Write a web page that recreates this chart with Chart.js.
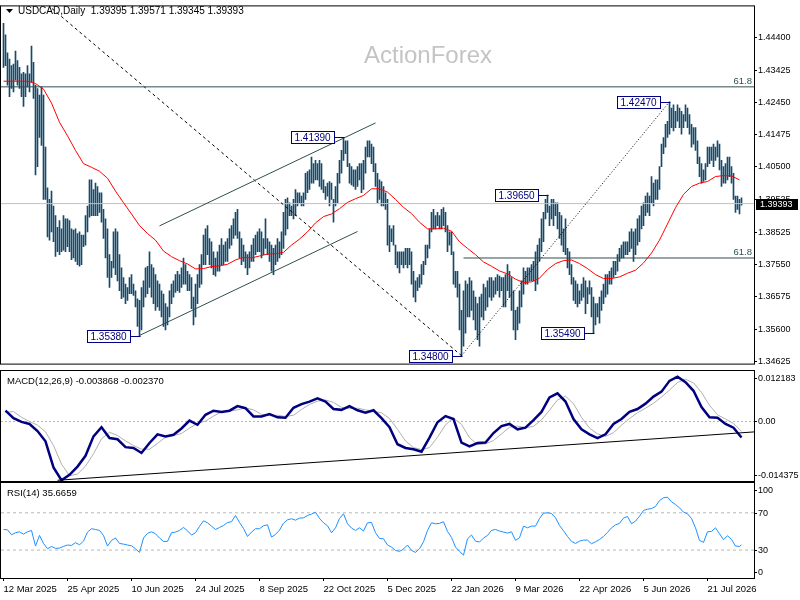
<!DOCTYPE html>
<html>
<head>
<meta charset="utf-8">
<title>USDCAD Daily</title>
<script src="https://cdn.jsdelivr.net/npm/chart.js@4.4.1/dist/chart.umd.min.js"></script>
<style>
  html, body { margin: 0; padding: 0; background: #fff; }
  #wrap { position: relative; width: 800px; height: 600px; overflow: hidden; background: #fff; }
  #wrap canvas { position: absolute; left: 0; }
</style>
</head>
<body>
<div id="wrap">
  <canvas id="priceChart" width="800" height="370" style="top:0px"></canvas>
  <canvas id="macdChart" width="800" height="112" style="top:370px"></canvas>
  <canvas id="rsiChart" width="800" height="118" style="top:482px"></canvas>
</div>
<script>
// daily bars, one value per trading day (bar 0 = 12 Mar 2025)
const priceHigh = [
  1.4484,1.4449,1.4395,1.4376,1.4356,1.4361,1.4400,1.4371,1.4351,1.4331,
  1.4336,1.4331,1.4356,1.4331,1.4415,1.4366,1.4297,1.4287,1.4267,1.4292,
  1.4267,1.4110,1.3987,1.3952,1.3977,1.3932,1.3903,1.3868,1.3888,1.3863,
  1.3903,1.3893,1.3893,1.3888,1.3863,1.3859,1.3863,1.3849,1.3854,1.3844,
  1.3844,1.3903,1.3932,1.4011,1.4011,1.3982,1.4001,1.3991,1.3972,1.3972,
  1.3922,1.3893,1.3863,1.3785,1.3765,1.3854,1.3863,1.3854,1.3785,1.3745,
  1.3716,1.3696,1.3686,1.3716,1.3725,1.3696,1.3676,1.3652,1.3647,1.3686,
  1.3706,1.3745,1.3750,1.3794,1.3755,1.3745,1.3725,1.3706,1.3696,1.3676,
  1.3666,1.3637,1.3627,1.3676,1.3696,1.3706,1.3725,1.3735,1.3725,1.3745,
  1.3775,1.3755,1.3735,1.3725,1.3716,1.3657,1.3696,1.3725,1.3755,1.3785,
  1.3844,1.3863,1.3873,1.3834,1.3824,1.3794,1.3775,1.3794,1.3814,1.3834,
  1.3814,1.3824,1.3834,1.3863,1.3873,1.3893,1.3913,1.3922,1.3854,1.3834,
  1.3814,1.3794,1.3785,1.3794,1.3814,1.3834,1.3844,1.3854,1.3863,1.3854,
  1.3834,1.3893,1.3834,1.3824,1.3814,1.3804,1.3814,1.3834,1.3824,1.3854,
  1.3913,1.3952,1.3957,1.3942,1.3932,1.3952,1.3982,1.3972,1.3972,1.3962,
  1.3972,1.4031,1.4036,1.4041,1.4080,1.4060,1.4070,1.4060,1.4070,1.4060,
  1.4011,1.3991,1.4001,1.4006,1.4001,1.3952,1.3991,1.4031,1.4070,1.4100,
  1.4139,1.4129,1.4129,1.4060,1.4051,1.4041,1.4041,1.4051,1.4060,1.4060,
  1.4070,1.4110,1.4129,1.4129,1.4119,1.4110,1.4060,1.4031,1.4011,1.4006,
  1.3991,1.3972,1.3952,1.3873,1.3863,1.3873,1.3814,1.3794,1.3794,1.3794,
  1.3794,1.3804,1.3804,1.3804,1.3794,1.3735,1.3706,1.3716,1.3725,1.3755,
  1.3765,1.3814,1.3814,1.3863,1.3913,1.3922,1.3903,1.3913,1.3903,1.3922,
  1.3927,1.3913,1.3873,1.3854,1.3854,1.3794,1.3735,1.3735,1.3696,1.3617,
  1.3676,1.3706,1.3696,1.3716,1.3706,1.3676,1.3657,1.3637,1.3657,1.3666,
  1.3696,1.3686,1.3706,1.3716,1.3716,1.3706,1.3716,1.3725,1.3720,1.3716,
  1.3716,1.3725,1.3755,1.3735,1.3716,1.3676,1.3617,1.3627,1.3676,1.3706,
  1.3745,1.3735,1.3745,1.3745,1.3755,1.3765,1.3794,1.3814,1.3834,1.3893,
  1.3913,1.3952,1.3965,1.3932,1.3952,1.3952,1.3942,1.3942,1.3913,1.3903,
  1.3863,1.3893,1.3804,1.3794,1.3755,1.3716,1.3706,1.3696,1.3676,1.3696,
  1.3716,1.3706,1.3686,1.3706,1.3686,1.3657,1.3637,1.3637,1.3657,1.3676,
  1.3696,1.3725,1.3725,1.3735,1.3745,1.3765,1.3765,1.3785,1.3804,1.3814,
  1.3824,1.3824,1.3824,1.3854,1.3863,1.3854,1.3863,1.3893,1.3903,1.3932,
  1.3942,1.3962,1.3972,1.3962,1.4021,1.4001,1.4011,1.4011,1.4051,1.4119,
  1.4139,1.4179,1.4188,1.4247,1.4228,1.4238,1.4218,1.4238,1.4228,1.4218,
  1.4208,1.4238,1.4228,1.4208,1.4179,1.4169,1.4169,1.4129,1.4080,1.4060,
  1.4041,1.4060,1.4110,1.4110,1.4110,1.4119,1.4110,1.4129,1.4119,1.4070,
  1.4051,1.4060,1.4080,1.4080,1.4051,1.4031,1.3962,1.3962,1.3952,1.39571
];
const priceLow = [
  1.4351,1.4356,1.4297,1.4262,1.4287,1.4277,1.4312,1.4297,1.4287,1.4262,
  1.4233,1.4262,1.4292,1.4277,1.4307,1.4257,1.4026,1.4051,1.4139,1.4115,
  1.3952,1.3952,1.3839,1.3829,1.3854,1.3824,1.3780,1.3794,1.3785,1.3794,
  1.3799,1.3794,1.3809,1.3794,1.3770,1.3775,1.3765,1.3755,1.3750,1.3755,
  1.3809,1.3814,1.3854,1.3898,1.3903,1.3903,1.3903,1.3903,1.3913,1.3883,
  1.3834,1.3775,1.3716,1.3686,1.3716,1.3745,1.3725,1.3706,1.3676,1.3652,
  1.3657,1.3637,1.3647,1.3667,1.3667,1.3662,1.3627,1.3568,1.3538,1.3558,
  1.3627,1.3657,1.3667,1.3686,1.3657,1.3637,1.3617,1.3627,1.3617,1.3597,
  1.3568,1.3558,1.3573,1.3597,1.3637,1.3657,1.3671,1.3676,1.3671,1.3686,
  1.3696,1.3696,1.3676,1.3676,1.3622,1.3573,1.3597,1.3637,1.3686,1.3696,
  1.3755,1.3755,1.3785,1.3755,1.3745,1.3725,1.3720,1.3735,1.3735,1.3755,
  1.3755,1.3765,1.3765,1.3804,1.3814,1.3834,1.3844,1.3834,1.3775,1.3755,
  1.3765,1.3745,1.3725,1.3745,1.3765,1.3765,1.3785,1.3794,1.3794,1.3775,
  1.3785,1.3804,1.3785,1.3765,1.3735,1.3725,1.3755,1.3765,1.3775,1.3785,
  1.3804,1.3844,1.3863,1.3903,1.3903,1.3893,1.3903,1.3932,1.3942,1.3932,
  1.3932,1.3952,1.3972,1.3982,1.4001,1.4001,1.4011,1.4011,1.3991,1.3982,
  1.3972,1.3952,1.3962,1.3932,1.3952,1.3883,1.3932,1.3942,1.4001,1.4031,
  1.4070,1.4090,1.4051,1.4001,1.3996,1.3991,1.3982,1.3991,1.4011,1.3972,
  1.3982,1.4031,1.4080,1.4080,1.4060,1.4036,1.3991,1.3942,1.3952,1.3932,
  1.3932,1.3922,1.3814,1.3794,1.3824,1.3814,1.3755,1.3745,1.3730,1.3755,
  1.3745,1.3755,1.3745,1.3755,1.3696,1.3657,1.3642,1.3676,1.3686,1.3696,
  1.3725,1.3755,1.3775,1.3804,1.3854,1.3863,1.3863,1.3873,1.3863,1.3863,
  1.3873,1.3854,1.3794,1.3814,1.3785,1.3696,1.3686,1.3657,1.3558,1.3480,
  1.3509,1.3548,1.3597,1.3597,1.3617,1.3588,1.3558,1.3528,1.3509,1.3597,
  1.3588,1.3617,1.3627,1.3657,1.3647,1.3657,1.3666,1.3676,1.3657,1.3676,
  1.3627,1.3627,1.3676,1.3657,1.3617,1.3558,1.3528,1.3558,1.3578,1.3627,
  1.3666,1.3696,1.3696,1.3706,1.3706,1.3706,1.3676,1.3696,1.3765,1.3794,
  1.3824,1.3893,1.3913,1.3873,1.3893,1.3873,1.3903,1.3863,1.3834,1.3814,
  1.3794,1.3785,1.3745,1.3725,1.3696,1.3647,1.3637,1.3627,1.3637,1.3647,
  1.3657,1.3607,1.3637,1.3666,1.3597,1.3549,1.3573,1.3597,1.3578,1.3617,
  1.3637,1.3657,1.3666,1.3696,1.3696,1.3716,1.3725,1.3735,1.3765,1.3775,
  1.3775,1.3785,1.3785,1.3794,1.3804,1.3765,1.3785,1.3814,1.3824,1.3863,
  1.3873,1.3903,1.3913,1.3903,1.3942,1.3932,1.3952,1.3952,1.3982,1.4051,
  1.4090,1.4110,1.4139,1.4149,1.4169,1.4159,1.4169,1.4188,1.4169,1.4149,
  1.4169,1.4188,1.4169,1.4149,1.4110,1.4119,1.4100,1.4060,1.4021,1.4001,
  1.4006,1.4011,1.4051,1.4060,1.4070,1.4051,1.4070,1.4080,1.4041,1.3991,
  1.4001,1.4001,1.4011,1.4021,1.4001,1.3952,1.3913,1.3922,1.3908,1.39345
];
const lastPrice = 1.39393;

// moving average, read every 4th bar (bars 0, 4, 8 ...)
const maLine = [
  1.4309,1.4309,1.4309,1.4309,1.4302,1.4285,1.4243,1.4185,1.4144,1.4100,
  1.4060,1.4049,1.4037,1.4016,1.3977,1.3942,1.3908,1.3873,1.3849,1.3829,
  1.3796,1.3779,1.3767,1.3757,1.3742,1.3743,1.3749,1.3751,1.3756,1.3769,
  1.3777,1.3775,1.3781,1.3787,1.3788,1.3792,1.3814,1.3832,1.3854,1.3881,
  1.3900,1.3908,1.3924,1.3943,1.3954,1.3964,1.3984,1.3984,1.3974,1.3952,
  1.3928,1.3909,1.3883,1.3863,1.3863,1.3865,1.3856,1.3824,1.3804,1.3785,
  1.3763,1.3750,1.3736,1.3727,1.3711,1.3701,1.3703,1.3714,1.3740,1.3758,
  1.3767,1.3769,1.3758,1.3743,1.3725,1.3713,1.3713,1.3718,1.3729,1.3738,
  1.3760,1.3790,1.3829,1.3878,1.3927,1.3967,1.3991,1.4001,1.4006,1.4021,
  1.4024,1.4023,1.4011
];

// MACD(12,26,9), read every 4th bar (bars 1, 5, 9 ... 369)
const macdMain = [
  0.0026,0.0008,-0.0001,-0.0006,-0.0023,-0.0048,-0.0111,-0.0142,-0.0129,-0.0109,
  -0.0083,-0.0036,-0.0014,-0.0040,-0.0043,-0.0062,-0.0064,-0.0076,-0.0052,-0.0031,
  -0.0036,-0.0032,-0.0017,0.0002,-0.0008,0.0016,0.0026,0.0023,0.0026,0.0037,
  0.0032,0.0012,0.0012,0.0018,0.0010,0.0009,0.0033,0.0042,0.0048,0.0056,
  0.0048,0.0030,0.0028,0.0037,0.0027,0.0021,0.0027,0.0008,-0.0014,-0.0055,
  -0.0064,-0.0067,-0.0073,-0.0039,-0.0002,0.0013,0.0006,-0.0051,-0.0060,-0.0052,
  -0.0051,-0.0028,-0.0011,-0.0006,-0.0019,-0.0015,0.0003,0.0023,0.0058,0.0068,
  0.0048,0.0006,-0.0019,-0.0031,-0.0040,-0.0031,-0.0006,0.0006,0.0023,0.0030,
  0.0043,0.0060,0.0072,0.0098,0.0108,0.0095,0.0074,0.0035,0.0010,0.0009,
  -0.0006,-0.0015,-0.003868
];
const macdSignal = [
  0.0022,0.0024,0.0010,0.0000,-0.0009,-0.0025,-0.0058,-0.0103,-0.0131,-0.0127,
  -0.0108,-0.0078,-0.0042,-0.0026,-0.0034,-0.0047,-0.0058,-0.0067,-0.0067,-0.0053,
  -0.0038,-0.0034,-0.0029,-0.0016,-0.0005,0.0001,0.0013,0.0023,0.0025,0.0028,
  0.0033,0.0028,0.0017,0.0014,0.0015,0.0012,0.0015,0.0029,0.0041,0.0049,
  0.0052,0.0046,0.0034,0.0031,0.0032,0.0028,0.0024,0.0021,0.0007,-0.0019,
  -0.0047,-0.0063,-0.0068,-0.0063,-0.0038,-0.0008,0.0008,-0.0007,-0.0039,-0.0056,
  -0.0054,-0.0046,-0.0030,-0.0014,-0.0011,-0.0015,-0.0012,0.0004,0.0027,0.0052,
  0.0061,0.0043,0.0010,-0.0016,-0.0030,-0.0036,-0.0027,-0.0009,0.0007,0.0021,
  0.0032,0.0044,0.0059,0.0076,0.0094,0.0102,0.0093,0.0070,0.0039,0.0016,
  0.0006,-0.0005,-0.002370
];

// RSI(14), read every 2nd bar (bars 0, 2, 4 ... 368) plus the last bar
const rsiLine = [
  52.1,51.8,46.4,48.6,49.6,47.1,49.6,51.1,34.3,45.7,
  37.1,31.4,33.9,31.8,32.1,33.9,35.4,35.0,37.9,35.7,
  39.6,49.3,52.9,52.1,51.1,45.7,34.3,40.4,42.9,37.1,
  36.4,35.4,34.6,31.4,27.5,42.9,47.9,49.6,47.5,42.9,
  39.3,39.3,48.6,49.3,51.1,54.3,50.7,46.1,48.6,55.4,
  61.4,59.3,55.7,52.1,54.3,56.4,59.6,60.4,67.1,59.6,
  53.2,44.6,49.3,52.9,52.9,56.1,57.1,43.9,46.8,51.4,
  58.9,62.5,63.6,62.1,64.3,64.6,67.1,68.6,70.7,63.9,
  59.3,56.1,48.6,53.9,63.9,68.9,58.2,53.6,51.1,53.9,
  50.4,59.3,59.6,48.6,42.5,42.1,35.4,33.2,29.6,28.6,
  31.1,35.4,29.6,27.5,31.4,38.9,51.1,59.3,58.2,58.6,
  60.4,50.0,43.6,33.2,28.6,24.6,42.1,46.1,39.6,38.6,
  42.9,45.7,51.1,52.1,50.4,49.3,48.2,49.6,40.4,43.2,
  55.7,53.9,55.7,55.7,63.9,69.6,70.0,69.3,64.6,56.4,
  50.7,44.6,39.3,37.1,39.6,40.7,40.7,36.8,38.9,41.4,
  44.6,48.9,53.9,57.1,58.6,64.3,66.1,58.2,61.1,66.4,
  72.5,73.9,74.6,76.8,83.2,86.1,86.8,81.8,78.9,75.4,
  70.7,68.9,63.9,53.9,40.4,38.2,49.6,50.0,53.9,47.5,
  41.1,45.4,41.4,34.3,33.9,35.6659
];

// drawn objects: bar index / price pairs
const pivotBars = [68, 170, 229, 272, 295, 333];
const pivotPrices = [1.35380, 1.41390, 1.34800, 1.39650, 1.35490, 1.42470];
const fibLevels = [1.4292, 1.3775];
const fibFromBars = [-2, 230];
const channelUpperBars = [78, 186];
const channelUpperPrices = [1.3872, 1.4183];
const channelLowerBars = [68, 177];
const channelLowerPrices = [1.3541, 1.3855];
const fallLineBars = [22, 229];
const fallLinePrices = [1.4540, 1.3480];
const riseLineBars = [229, 333];
const riseLinePrices = [1.3480, 1.4247];
const macdTrendBars = [27, 376];
const macdTrendValues = [-0.0142, -0.0025];

// axes
const priceTicks = [1.44400, 1.43425, 1.42450, 1.41475, 1.40500, 1.39525, 1.38525, 1.37550, 1.36575, 1.35600, 1.34625];
const macdTicks = [0.012183, 0, -0.014375];
const macdTickLabels = ['0.012183', '0.00', '-0.014375'];
const rsiTicks = [100, 70, 30, 0];
const dateTickBars = [0, 32, 64, 96, 128, 160, 192, 224, 256, 288, 320, 352];
const dateTickLabels = ['12 Mar 2025', '25 Apr 2025', '10 Jun 2025', '24 Jul 2025', '8 Sep 2025', '22 Oct 2025',
  '5 Dec 2025', '22 Jan 2026', '9 Mar 2026', '22 Apr 2026', '5 Jun 2026', '21 Jul 2026'];

const FONT = '"Liberation Sans", Arial, sans-serif';
Chart.defaults.font.family = FONT;
Chart.defaults.font.size = 9;
Chart.defaults.color = '#000';

const X_MIN = -1.25;
const X_MAX = 375.25;

function segment(bars, vals) {
  return bars.map((b, n) => ({ x: b, y: vals[n] }));
}

function lineSet(data, color, width, dash, order) {
  return {
    type: 'line', data: data, borderColor: color, borderWidth: width,
    borderDash: dash || [], pointRadius: 0, tension: 0, order: order || 0
  };
}

const frame = {
  id: 'frame',
  afterDraw(chart) {
    const a = chart.chartArea;
    const ctx = chart.ctx;
    ctx.save();
    ctx.strokeStyle = '#000';
    ctx.lineWidth = 1;
    ctx.strokeRect(a.left - 0.5, a.top - 0.5, a.right - a.left + 1, a.bottom - a.top + 1);
    ctx.restore();
  }
};

// labels on the right side of the small panels, kept inside the window
function sideLabels(values, texts, title) {
  return {
    id: 'sideLabels',
    afterDraw(chart) {
      const ctx = chart.ctx;
      const a = chart.chartArea;
      const y = chart.scales.y;
      ctx.save();
      ctx.font = '9px ' + FONT;
      ctx.fillStyle = '#000';
      ctx.strokeStyle = '#000';
      ctx.textBaseline = 'middle';
      values.forEach((v, n) => {
        let py = y.getPixelForValue(v);
        py = Math.min(Math.max(py, a.top + 7), a.bottom - 6);
        py = Math.round(py) + 0.5;
        ctx.beginPath();
        ctx.moveTo(a.right, py);
        ctx.lineTo(a.right + 3, py);
        ctx.stroke();
        ctx.fillText(texts[n], a.right + 4, py);
      });
      ctx.textBaseline = 'alphabetic';
      ctx.font = '9.5px ' + FONT;
      ctx.fillText(title, 7, a.top + 13);
      ctx.restore();
    }
  };
}

const priceDecor = {
  id: 'priceDecor',
  beforeDatasetsDraw(chart) {
    const ctx = chart.ctx;
    ctx.save();
    ctx.font = '24px ' + FONT;
    ctx.fillStyle = '#c4c4c4';
    ctx.fillText('ActionForex', 364, 63);
    ctx.restore();
  },
  afterDatasetsDraw(chart) {
    const ctx = chart.ctx;
    const x = chart.scales.x;
    const y = chart.scales.y;
    const a = chart.chartArea;
    ctx.save();
    ctx.font = '9.5px ' + FONT;
    ctx.lineWidth = 1;

    // fibonacci level tags
    ctx.fillStyle = '#2f4f4f';
    ctx.textAlign = 'right';
    fibLevels.forEach(lv => {
      ctx.fillText('61.8', a.right - 2, y.getPixelForValue(lv) - 3);
    });

    // swing high / low tags
    ctx.font = '10px ' + FONT;
    ctx.textAlign = 'left';
    ctx.textBaseline = 'middle';
    pivotBars.forEach((bar, n) => {
      const px = Math.round(x.getPixelForValue(bar)) + 0.5;
      const py = Math.round(y.getPixelForValue(pivotPrices[n])) + 0.5;
      const text = pivotPrices[n].toFixed(5);
      const w = Math.ceil(ctx.measureText(text).width) + 6;
      const bx = px - 10 - w;
      ctx.fillStyle = '#fff';
      ctx.fillRect(bx, py - 6, w, 12);
      ctx.strokeStyle = '#000080';
      ctx.strokeRect(bx, py - 6, w, 12);
      ctx.beginPath();
      ctx.moveTo(bx + w, py);
      ctx.lineTo(px, py);
      ctx.stroke();
      ctx.fillStyle = '#000080';
      ctx.fillText(text, bx + 3, py + 0.5);
    });

    // header
    ctx.textBaseline = 'alphabetic';
    ctx.fillStyle = '#000';
    ctx.beginPath();
    ctx.moveTo(6, 9);
    ctx.lineTo(13, 9);
    ctx.lineTo(9.5, 13);
    ctx.closePath();
    ctx.fill();
    ctx.fillText('USDCAD,Daily  1.39395 1.39571 1.39345 1.39393', 18, 14);
    ctx.restore();
  },
  afterDraw(chart) {
    const ctx = chart.ctx;
    const y = chart.scales.y;
    const a = chart.chartArea;
    const py = Math.round(y.getPixelForValue(lastPrice));
    ctx.save();
    ctx.fillStyle = '#000';
    ctx.fillRect(a.right + 2, py - 5, 42, 11);
    ctx.font = '9px ' + FONT;
    ctx.fillStyle = '#fff';
    ctx.textBaseline = 'middle';
    ctx.fillText(lastPrice.toFixed(5), a.right + 6, py + 0.5);
    ctx.restore();
  }
};

const hiddenX = { type: 'linear', min: X_MIN, max: X_MAX, offset: false, display: false };

function rightAxis(min, max) {
  return {
    type: 'linear', position: 'right', min: min, max: max,
    afterFit: s => { s.width = 46; },
    grid: { drawOnChartArea: false, drawTicks: false },
    border: { display: false },
    ticks: { display: false }
  };
}

// price panel
new Chart(document.getElementById('priceChart'), {
  type: 'bar',
  data: {
    datasets: [
      {
        type: 'bar',
        data: priceHigh.map((h, i) => ({ x: i, y: [priceLow[i], h] })),
        backgroundColor: '#17496b',
        borderWidth: 0,
        barThickness: 1,
        order: 10
      },
      lineSet(segment([X_MIN, X_MAX], [lastPrice, lastPrice]), '#c0c0c0', 1, null, 9),
      lineSet(maLine.map((v, k) => ({ x: k * 4, y: v })), '#ff0000', 1, null, 5),
      lineSet(segment([fibFromBars[0], X_MAX], [fibLevels[0], fibLevels[0]]), '#2f4f4f', 1),
      lineSet(segment([fibFromBars[1], X_MAX], [fibLevels[1], fibLevels[1]]), '#2f4f4f', 1),
      lineSet(segment(channelUpperBars, channelUpperPrices), '#2f4f4f', 1),
      lineSet(segment(channelLowerBars, channelLowerPrices), '#2f4f4f', 1),
      lineSet(segment(fallLineBars, fallLinePrices), '#000', 1, [3, 3]),
      lineSet(segment(riseLineBars, riseLinePrices), '#000', 1, [1, 2])
    ]
  },
  options: {
    responsive: false,
    animation: false,
    layout: { padding: { left: 1, top: 3, right: 0, bottom: 2 } },
    plugins: { legend: { display: false }, tooltip: { enabled: false } },
    scales: {
      x: hiddenX,
      y: {
        type: 'linear', position: 'right', min: 1.3456, max: 1.4535,
        afterFit: s => { s.width = 46; },
        afterBuildTicks: s => { s.ticks = priceTicks.map(v => ({ value: v })); },
        grid: { drawOnChartArea: false, drawTicks: true, tickLength: 3, color: '#000' },
        border: { display: false },
        ticks: { padding: 1, callback: v => v.toFixed(5) }
      }
    }
  },
  plugins: [frame, priceDecor]
});

// MACD panel
new Chart(document.getElementById('macdChart'), {
  type: 'line',
  data: {
    datasets: [
      lineSet(segment([X_MIN, X_MAX], [0, 0]), '#b4b4b4', 1, [2, 2], 9),
      lineSet(macdSignal.map((v, k) => ({ x: 1 + k * 4, y: v })), '#b0b0b0', 1, null, 5),
      lineSet(macdMain.map((v, k) => ({ x: 1 + k * 4, y: v })), '#000080', 2.5, null, 2),
      lineSet(segment(macdTrendBars, macdTrendValues), '#000', 1, null, 1)
    ]
  },
  options: {
    responsive: false,
    animation: false,
    layout: { padding: { left: 1, top: 1, right: 0, bottom: 1 } },
    plugins: { legend: { display: false }, tooltip: { enabled: false } },
    scales: { x: hiddenX, y: rightAxis(-0.014375, 0.012183) }
  },
  plugins: [frame, sideLabels(macdTicks, macdTickLabels, 'MACD(12,26,9) -0.003868 -0.002370')]
});

// RSI panel with the date axis
new Chart(document.getElementById('rsiChart'), {
  type: 'line',
  data: {
    datasets: [
      lineSet(segment([X_MIN, X_MAX], [70, 70]), '#b8b8b8', 1, [3, 3], 9),
      lineSet(segment([X_MIN, X_MAX], [30, 30]), '#b8b8b8', 1, [3, 3], 9),
      lineSet(rsiLine.map((v, k) => ({ x: Math.min(k * 2, 369), y: v })), '#1e90ff', 1, null, 1)
    ]
  },
  options: {
    responsive: false,
    animation: false,
    layout: { padding: { left: 1, top: 1, right: 0, bottom: 0 } },
    plugins: { legend: { display: false }, tooltip: { enabled: false } },
    scales: {
      x: {
        type: 'linear', min: X_MIN, max: X_MAX, offset: false,
        afterFit: s => { s.height = 22; },
        afterBuildTicks: s => { s.ticks = dateTickBars.map(v => ({ value: v })); },
        grid: { drawOnChartArea: false, drawTicks: true, tickLength: 3, color: '#000' },
        border: { display: false },
        ticks: {
          align: 'start', padding: 3, autoSkip: false, maxRotation: 0,
          font: { size: 9.5 },
          callback: v => dateTickLabels[dateTickBars.indexOf(v)] || ''
        }
      },
      y: rightAxis(0, 102)
    }
  },
  plugins: [frame, sideLabels(rsiTicks, rsiTicks.map(String), 'RSI(14) 35.6659')]
});
</script>
</body>
</html>
